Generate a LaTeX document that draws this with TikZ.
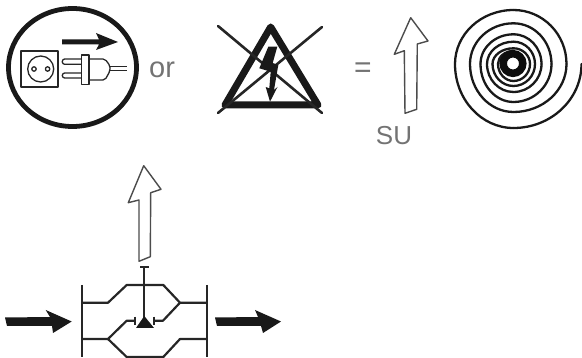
\documentclass[tikz,border=0pt]{standalone}
\usepackage{fontspec}
\setmainfont{Liberation Sans}
\tikzset{
	label/.style = {text=black!55, inner sep=0pt},
	thin line/.style = {draw=black!85, line width=2.2pt, line join=round},
	plug line/.style = {draw=black!85, line width=1.3pt, line join=round},
	spiral line/.style = {draw=black!90, line width=2.3pt, line cap=round},
	solid arrow/.style = {fill=black!90, draw=none},
	open arrow/.style = {draw=black!70, fill=white, line width=1.4pt, line join=round}
}
\begin{document}
\begin{tikzpicture}[x=1pt, y=-1pt]
		\useasboundingbox (0,0) rectangle (582,358);
		% plug in circle
		\draw [black!90, line width=4.8pt] (72.5,67.5) ellipse [x radius=64, y radius=59];
		\draw [plug line] (21,51) rectangle (58,87);
		\draw [plug line] (40.7,69) circle (13);
		\draw [plug line] (34,69) circle (2.2);
		\draw [plug line] (47.6,69) circle (2.2);
		\draw [plug line, rounded corners=2.4pt] (81.7,59) -- (62.3,59) -- (62.3,64.3) -- (81.7,64.3);
		\draw [plug line, rounded corners=2.4pt] (81.7,73) -- (62.3,73) -- (62.3,78) -- (81.7,78);
		\draw [plug line] (81.7,55) rectangle (89,84.3);
		\draw [plug line, rounded corners=2pt] (89,59) -- (105,59) -- (110,65.7) -- (110,71) -- (105,80) -- (89,80);
		\draw [plug line, line width=1pt] (110,66.7) -- (127,66.7);
		\draw [plug line, line width=1pt] (110,70.5) -- (127,70.5);
		\fill [solid arrow] (62,39.5) -- (99,39.5) -- (96,33) -- (118,42) -- (96,50) -- (99,44.5) -- (62,44.5) -- cycle;
		\node [label, font=\fontsize{29}{29}\selectfont, anchor=base west] (ortext) at (149,78) {or};
		% crossed triangle
		\draw [black!90, line width=7pt, line join=round] (270.7,27) -- (318,105) -- (225,105) -- cycle;
		\draw [black!85, line width=2.6pt, line cap=round] (218,26) -- (322,113);
		\draw [black!85, line width=2.6pt, line cap=round] (322,27) -- (218,113);
		\fill [black!90] (268.3,46.7) -- (277.3,46.7) -- (272.7,63) -- (278.3,65) -- (274,90) -- (277.5,87) -- (270,101.7) -- (265.7,87) -- (269.3,88.3) -- (270.7,71.7) -- (259.3,68.3) -- cycle;
		\node [label, font=\fontsize{30}{30}\selectfont] (equal) at (363,70) {=};
		\draw [open arrow] (410.7,17.7) -- (428,41) -- (417.3,44) -- (416.7,109.3) -- (405,113.3) -- (404.3,50.7) -- (394.3,54.3) -- cycle;
		\node [label, font=\fontsize{26}{26}\selectfont] (su) at (394,136) {SU};
		% spiral
		\begin{scope}[shift={(513.5,64)}]
			\foreach \ang/\ra/\rb in {0/68/64, 90/64/58.5, 180/58.5/54, 270/54/53, 360/53/48, 450/48/43.5, 540/43.5/40.7, 630/40.7/38, 720/38/38, 810/38/33, 900/33/29.7, 990/29.7/28, 1080/28/28, 1170/28/26.5, 1260/26.5/22.3, 1350/22.3/21.5, 1440/21.5/22, 1530/22/21, 1620/21/15.7, 1710/15.7/16.5, 1800/16.5/17, 1890/17/15.5, 1980/15.5/13}
				\draw [spiral line] (\ang:\ra) .. controls +(\ang+90:.5523*\rb) and +(\ang:.5523*\ra) .. (\ang+90:\rb);
		\end{scope}
		\draw [black!95, line width=7.5pt] (513,63.5) circle (9.8);
		% valve
		\draw [open arrow] (143.7,165.7) -- (161,189.3) -- (150.7,192.7) -- (150.3,256.7) -- (139,261.3) -- (139,200) -- (128.3,202.7) -- cycle;
		\draw [thin line] (81.7,285) -- (81.7,357);
		\draw [thin line] (207.3,285) -- (207.3,357);
		\draw [thin line] (81.7,302.7) -- (108,302.7) -- (126.7,285) -- (163.3,285) -- (180,302.7) -- (207.3,302.7);
		\draw [thin line] (180,302.7) -- (163,320.7) -- (155,320.7);
		\draw [thin line] (81.7,339) -- (108,339) -- (126.7,320.7) -- (135,320.7);
		\draw [thin line] (108,339) -- (126.7,357) -- (163.3,357) -- (180,339) -- (207.3,339);
		\draw [thin line] (144.3,266.7) -- (144.3,320);
		\draw [thin line] (140,266.7) -- (148.7,266.7);
		\draw [thin line] (135,316.7) -- (135,325);
		\draw [thin line] (154.3,316.7) -- (154.3,325);
		\fill [black!90] (144.3,316) -- (154,328) -- (136,328) -- cycle;
		\fill [solid arrow] (5,317.5) -- (50,317) -- (45.7,310) -- (71.7,321.5) -- (53,333) -- (52,326) -- (7,326) -- cycle;
		\fill [solid arrow] (215,317.5) -- (258,317) -- (255,310) -- (281,321.5) -- (263,333) -- (261,326) -- (217,326) -- cycle;
	    \end{tikzpicture}
\end{document}
